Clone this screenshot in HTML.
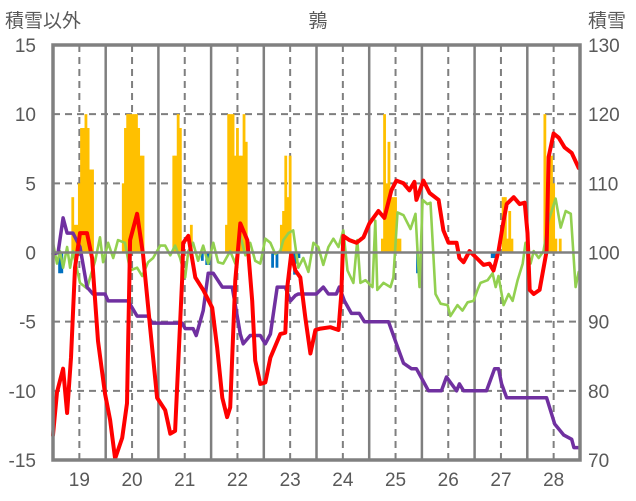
<!DOCTYPE html>
<html><head><meta charset="utf-8">
<style>
html,body{margin:0;padding:0;background:#fff;}
svg{display:block;font-family:"Liberation Sans","Noto Sans CJK JP",sans-serif;}
</style></head>
<body>
<svg id="chart" width="636" height="501" viewBox="0 0 636 501">
  <g id="grid"></g>
  <g id="bars"></g>
  <g id="lines"></g>
  <g id="frame"></g>
  <g id="labels" fill="#595959" font-size="19"></g>
  <text x="5" y="27" font-size="19" fill="#595959">積雪以外</text>
  <text x="318" y="27" font-size="19" fill="#595959" text-anchor="middle">鶉</text>
  <text x="588" y="27" font-size="19" fill="#595959">積雪</text>
</svg>
<script>
// x: hours since day 18 12:00 ; left values; right values (snow depth)
const dayLabels = ["19","20","21","22","23","24","25","26","27","28"];
const leftTicks = [15,10,5,0,-5,-10,-15];
const rightTicks = [130,120,110,100,90,80,70];

const snowHours = [9,10,11,12,13,14,15,16,17,18, 32,33,34,35,36,37,38,39,40,41, 55,56,57,58,63, 79,80,81,82,83,84,85,86,87,88, 104,105,106,107,108, 150,151,152,153,154,155,156,157,158, 205,206,207,208,209, 224,225,226,227,228,229,231];
const snowVals  = [4,2,2,5,9,9,10,9,6,6, 5,9,10,10,10,10,10,9,7,7, 7,7,10,9,2, 2,10,10,10,7,9,7,7,10,8, 2,3,7,4,7, 1,10,5,8,4,4,4,1,1, 4,4,1,3,1, 10,1,5,7,5,1,1];
const meltHours = [3,4,68,70,71,100,102,110,111,112,166,200,201];
const meltVals  = [-1.5,-1.5,-0.6,-0.9,-0.9,-1.1,-1.1,-1.6,-0.8,-0.4,-1.5,-0.4,-0.4];

const redHours = [0,1.8,4.6,6.4,8.2,10,12.3,15.5,17.8,20.5,23.7,26,28.3,31.5,33.7,35.1,38.3,41,44.2,47.4,51.1,53.4,55.6,58.8,59.3,61.6,64.8,68.4,72.5,74.8,77.1,79.3,80.7,83,85.3,88.5,90.7,92.1,94.4,96.7,99,103.5,105.8,106.7,108.5,110.4,112.6,114.9,117.2,119.5,121.8,126.3,130,131.3,132.2,135,138.2,141.4,144.1,148.2,150.9,154.1,156.4,159.6,162.3,164.6,165.5,168.7,171.5,175.6,177.8,180.1,183.8,185.1,187,189.7,192.9,196.1,198.8,200.6,202.9,205.2,206.6,209.8,212.5,214.8,216.1,217.1,218.9,221.6,224.8,225.7,228,230.3,233,236.2,239.4];
const redVals  = [-13.2,-10.1,-8.4,-11.6,-7.6,-1.1,1.4,1.4,-0.4,-6.4,-10.2,-12.1,-14.9,-13.4,-10.9,0.9,2.8,-0.1,-5.4,-10.5,-11.4,-13.1,-12.9,-2,0.7,1.2,-1.8,-2.7,-4,-6.9,-10.5,-11.9,-11.2,-2,2.1,0.9,-3.5,-7.8,-9.5,-9.4,-7.6,-5.9,-5.8,-2.5,-0.1,-1.3,-1.8,-4.7,-7.3,-5.6,-5.5,-5.4,-5.6,-3,1.2,0.9,0.7,1.1,2.1,3,2.5,4.5,5.2,5,4.5,5.1,3.8,5.2,4.3,3.8,1.6,0.7,0.7,-0.4,-0.7,0.1,-0.4,-0.9,-0.8,-1.3,0.1,2.3,3.5,4,3.5,3.6,1.4,-2.7,-3,-2.7,0.1,6.9,8.6,8.3,7.6,7.2,6.1];

const greenHours = [0,1.8,3.2,4.6,6.4,7.8,9.1,12.3,15.5,16.9,19.2,21.4,22.8,25.1,27.4,29.6,32.8,35.1,38.3,40.6,43.3,45.6,48.8,51.1,53.4,55.6,57.9,60.2,61.6,63.8,66.1,68.4,70.7,73,75.2,77.5,80.7,83,85.3,87.6,89.8,92.1,94.4,96.7,99,101.2,103.5,104.9,107.2,109.4,111.7,114,116.3,118.6,120.8,123.1,125.4,127.7,130,132.2,134.1,136.8,138.6,140,142.3,145.5,146.8,147.7,150.5,153.7,155,156.9,159.6,162.8,165.1,166.9,168.3,170.5,171.9,174.2,176.5,179.7,181,184.2,186.5,188.8,191.5,193.3,194.7,197.9,200.2,201.6,202.9,205.2,207.5,209.3,211.6,213.9,215.2,217.5,218.9,221.2,223.4,225.7,228.9,231.2,233.5,235.8,238,239.4];
const greenVals  = [0.7,-0.8,0.1,-1.1,0.4,-1.1,0.1,-2.2,-2.6,-1.8,-0.6,1.1,-0.7,0.7,-0.4,0.9,0.7,-1.3,-1.1,-1.7,-0.7,-0.4,0.5,0.5,-0.2,0.5,-0.4,-1.8,0.1,0.7,-0.6,0.5,-0.8,0.7,-0.7,-0.8,0.1,-0.8,1.2,-0.2,0.7,-0.6,-0.8,1,0.7,-0.1,0.1,0.9,1.4,1.6,-1.1,-0.4,-1.4,0.7,0.4,-0.9,0.4,1,0.4,1.6,-1.3,-2.2,0.9,-2.2,-2,-2.5,2.3,-2.7,-2.2,-2.5,-1.8,2.9,2.7,1.7,2.8,-2.5,3.8,3.5,3.6,-3,-3.7,-3.8,-4.6,-3.8,-4.2,-3.6,-3.5,-2.7,-2.2,-2,-1.5,-2.5,-1.7,-3.8,-3,-3.5,-2,-0.8,0.7,-0.8,0.1,-0.4,0.1,2.3,3.9,1.8,3,2.8,-2.5,-1.4];

const purpleHours = [0,2.3,4.6,6.4,9.1,12.3,15.5,18.2,23.7,25.1,34.2,38.3,43.3,45.1,58.8,60.2,63.8,65.2,68.4,70.7,73,77.1,81.6,85.3,86.6,89.8,94.4,96.7,99,102.1,105.8,108.1,110.4,111.7,119.9,123.1,125.4,129,130.4,132.7,135.9,139.5,141.8,152.8,156.4,159.6,163.2,165.5,171,176.9,179.2,181.5,183.8,185.1,187,197.4,201.1,202.9,204.3,206.6,224.8,228.5,232.6,236.2,237.2,239.4];
const purpleVals  = [99.8,100,105,102.8,102.8,100.8,95,94,94,93,93,90.8,90.8,89.8,89.8,89,89,88,91.6,97,97,95,95,88.2,86.8,88,88,86.8,88.2,95,95,93,93.8,94,94,95,94,94,95,93,91.2,91.2,90,90,86.8,84,83.2,83.2,80,80,82,81,80,81,80,80,83.2,83.2,81,79,79,75.2,73.6,73,71.8,71.8];

const X0 = 53, X1 = 580, Y0 = 45, Y1 = 460;
const HMAX = 240;
function xH(h){ return X0 + h*(X1-X0)/HMAX; }
function yL(v){ return Y1 - (v+15)*(Y1-Y0)/30; }
function yR(r){ return Y1 - (r-70)*(Y1-Y0)/60; }
const NS = "http://www.w3.org/2000/svg";
function mk(tag, attrs, parent){ const e=document.createElementNS(NS,tag); for(const k in attrs) e.setAttribute(k,attrs[k]); parent.appendChild(e); return e; }

const grid = document.getElementById('grid');
[10,5,-5,-10].forEach(v=>{
  const l = mk('line',{x1:X0,x2:X1,y1:yL(v),y2:yL(v),stroke:'#7f7f7f','stroke-width':2,'stroke-dasharray':'7,5'},grid);
  
  
});
for(let d=0; d<10; d++){
  const l = mk('line',{x1:xH(12+24*d),x2:xH(12+24*d),y1:Y0,y2:Y1,stroke:'#7f7f7f','stroke-width':2,'stroke-dasharray':'7,5'},grid);
  
  
  if(d>0){
    const s = mk('line',{x1:xH(24*d),x2:xH(24*d),y1:Y0,y2:Y1,stroke:'#7f7f7f','stroke-width':2.5},grid);
    
    
  }
}

const bars = document.getElementById('bars');
const bw = (X1-X0)/HMAX + 0.6;
snowHours.forEach((h,i)=>{
  const v = snowVals[i];
  const r = mk('rect',{x:xH(h)-bw/2,y:yL(v),width:bw,height:yL(0)-yL(v),fill:'#FFC000'},bars);
  
  
});
meltHours.forEach((h,i)=>{
  const v = meltVals[i];
  const r = mk('rect',{x:xH(h)-bw/2,y:yL(0),width:bw,height:yL(v)-yL(0),fill:'#0070C0'},bars);
  
  
});

const lines = document.getElementById('lines');
function path(hs, vs, yf, color, w, name){
  const d = hs.map((h,i)=>(i?'L':'M')+xH(h).toFixed(1)+','+yf(vs[i]).toFixed(1)).join('');
  const p = mk('path',{d:d,fill:'none',stroke:color,'stroke-width':w,'stroke-linejoin':'round','stroke-linecap':'round'},lines);
  
  
}
path(greenHours, greenVals, yL, '#92D050', 2.6, 'green-series-line');
path(purpleHours, purpleVals, yR, '#7030A0', 3.5, 'snow-depth-line');
path(redHours, redVals, yL, '#FF0000', 4, 'red-series-line');

const frame = document.getElementById('frame');
const zl = mk('line',{x1:X0,x2:X1,y1:yL(0),y2:yL(0),stroke:'#808080','stroke-width':2.5},frame);


const fr = mk('rect',{x:X0,y:Y0,width:X1-X0,height:Y1-Y0,fill:'none',stroke:'#808080','stroke-width':3.5},frame);



const labels = document.getElementById('labels');
leftTicks.forEach(v=>{
  const t = mk('text',{x:36,y:yL(v)+7,'text-anchor':'end'},labels);
  t.textContent = v;
  
  
});
rightTicks.forEach(r=>{
  const t = mk('text',{x:588,y:yR(r)+7},labels);
  t.textContent = r;
  
  
});
dayLabels.forEach((s,i)=>{
  const t = mk('text',{x:xH(12+24*i),y:486,'text-anchor':'middle'},labels);
  t.textContent = s;
  
  
});
</script>
</body></html>
